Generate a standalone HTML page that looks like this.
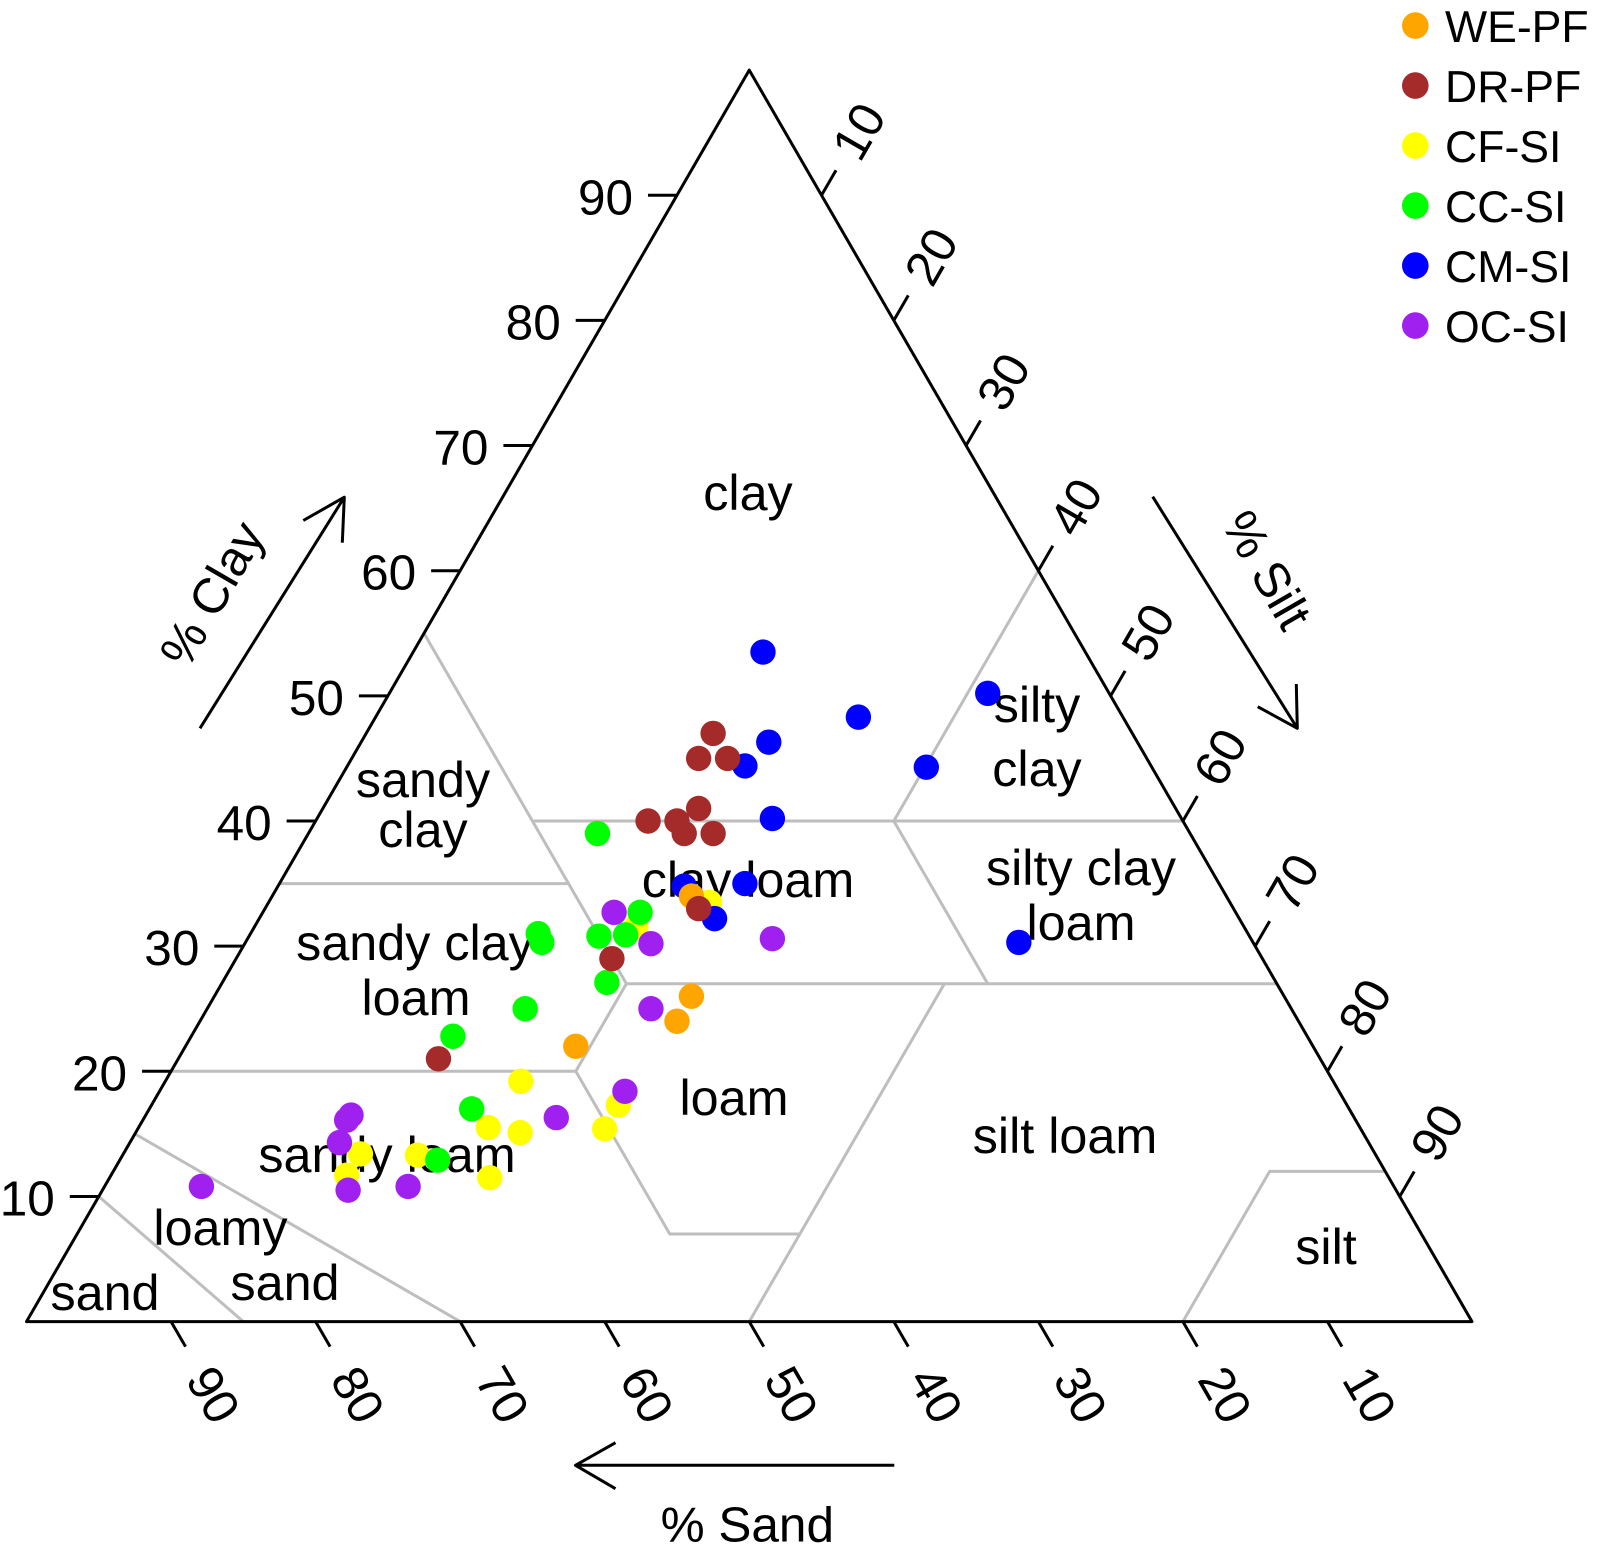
<!DOCTYPE html>
<html lang="en">
<head>
<meta charset="utf-8">
<title>Soil texture triangle</title>
<style>
html,body{margin:0;padding:0;background:#fff;}
svg{display:block;}
text{font-family:"Liberation Sans",Arial,sans-serif;fill:#000;}
.region{font-size:50.3px;text-anchor:middle;}
.tick{font-size:49.5px;text-anchor:middle;}
.axis-title{font-size:49.5px;text-anchor:middle;}
.legend-text{font-size:44.6px;}
</style>
</head>
<body>
<svg id="chart" xmlns="http://www.w3.org/2000/svg" width="1598" height="1550" viewBox="0 0 1598 1550">
  <rect width="1598" height="1550" fill="#ffffff"/>
  <g id="boundaries"></g>
  <g id="region-labels">
    <text class="region" x="748" y="510">clay</text>
    <text class="region" x="423" y="797">sandy</text>
    <text class="region" x="423" y="847">clay</text>
    <text class="region" x="415" y="960">sandy clay</text>
    <text class="region" x="416" y="1015">loam</text>
    <text class="region" x="387" y="1172">sandy loam</text>
    <text class="region" x="220.5" y="1245">loamy</text>
    <text class="region" x="285" y="1300">sand</text>
    <text class="region" x="105" y="1310">sand</text>
    <text class="region" x="748" y="897">clay loam</text>
    <text class="region" x="1037" y="722">silty</text>
    <text class="region" x="1037" y="786">clay</text>
    <text class="region" x="1081" y="885">silty clay</text>
    <text class="region" x="1081" y="940">loam</text>
    <text class="region" x="734" y="1115">loam</text>
    <text class="region" x="1065" y="1153">silt loam</text>
    <text class="region" x="1326" y="1264">silt</text>
  </g>
  <g id="frame"></g>
  <g id="ticks"></g>
  <g id="arrows" fill="none" stroke="#000" stroke-width="3" stroke-linejoin="round">
    <path d="M200 728.3L344.3 497.2M303.3 520.5L344.3 497.2L342.3 542.7"/>
    <path d="M1152.7 496.7L1297.3 728.3M1257.7 706.7L1297.3 728.3L1296.3 684"/>
    <path d="M894.3 1465.3L575.5 1465.3M615.5 1442.7L575.5 1465.3L615.5 1488.7"/>
  </g>
  <text class="axis-title" transform="translate(212,594) rotate(-60)" y="17">% Clay</text>
  <text class="axis-title" transform="translate(1267,570) rotate(60)" y="17">% Silt</text>
  <text class="axis-title" x="747.3" y="1541.7">% Sand</text>
  <g id="points"></g>
  <g id="legend"></g>
</svg>
<script>
// Tick values printed on the three axes
const clayTicks = [10, 20, 30, 40, 50, 60, 70, 80, 90];
const siltTicks = [10, 20, 30, 40, 50, 60, 70, 80, 90];
const sandTicks = [90, 80, 70, 60, 50, 40, 30, 20, 10];

// Sample compositions (% clay and % silt)
const wePfClay = [34, 26, 24, 22];
const wePfSilt = [29, 33, 33, 27];
const drPfClay = [40, 40, 41, 39, 39, 33, 29, 47, 45, 45, 21];
const drPfSilt = [23, 25, 26, 26, 28, 30, 26, 24, 24, 26, 18];
const cfSiClay = [33.5, 31.5, 19.2, 17.3, 15.5, 15.1, 15.4, 13.4, 13.3, 11.7, 11.5];
const cfSiSilt = [30.5, 26.4, 24.6, 32.3, 24.2, 26.6, 32.3, 16.4, 20.4, 16.3, 26.3];
const ccSiClay = [39, 32.7, 30.8, 30.9, 31, 30.3, 27.1, 25, 22.8, 17, 12.9];
const ccSiSilt = [20, 26.1, 24.2, 26, 19.9, 20.5, 26.6, 22, 18.1, 22.3, 22];
const cmSiClay = [53.5, 48.3, 50.2, 46.3, 44.4, 44.3, 40.2, 34.8, 35, 32.2, 30.3];
const cmSiSilt = [24.2, 33.4, 41.4, 28.2, 27.5, 40.1, 31.5, 28.1, 32.2, 31.5, 53.5];
const ocSiClay = [32.7, 30.2, 30.6, 25, 18.4, 16.3, 16.5, 16.1, 14.3, 10.8, 10.5, 10.8];
const ocSiSilt = [24.3, 28.1, 36.3, 30.7, 32.2, 28.5, 14.2, 14.1, 14.5, 6.7, 17, 21];

// Legend order
const legendLabels = ['WE-PF', 'DR-PF', 'CF-SI', 'CC-SI', 'CM-SI', 'OC-SI'];
const legendColors = ['#ffa500', '#a52a2a', '#ffff00', '#00ff00', '#0000ff', '#a020f0'];

// Texture-class boundary polylines as [clay, silt] compositions
const boundaryLines = [
  [[10, 0], [0, 15]],
  [[15, 0], [0, 30]],
  [[55, 0], [40, 15], [35, 20], [27, 28], [20, 28], [7, 41], [7, 50]],
  [[35, 0], [35, 20]],
  [[20, 0], [20, 28]],
  [[40, 15], [40, 60]],
  [[60, 40], [40, 40], [27, 53]],
  [[27, 28], [27, 73]],
  [[27, 50], [0, 50]],
  [[12, 88], [12, 80], [0, 80]]
];

// Axis geometry
const LEFT = 26.5, BASE = 1321.6, WIDTH = 1445.5, HEIGHT = 1251.5;
function xPos(clay, silt) { return LEFT + WIDTH * (silt + clay / 2) / 100; }
function yPos(clay) { return BASE - HEIGHT * clay / 100; }

const NS = 'http://www.w3.org/2000/svg';
function make(tag, parentId) {
  const el = document.createElementNS(NS, tag);
  document.getElementById(parentId).appendChild(el);
  return el;
}

// Boundaries
boundaryLines.forEach(function (line) {
  const el = make('polyline', 'boundaries');
  
  
  el.setAttribute('points', line.map(function (p) { return xPos(p[0], p[1]) + ',' + yPos(p[0]); }).join(' '));
  el.setAttribute('fill', 'none');
  el.setAttribute('stroke', '#bebebe');
  el.setAttribute('stroke-width', '3');
  el.setAttribute('stroke-linejoin', 'round');
});

// Triangle frame
const frameEl = make('polygon', 'frame');


frameEl.setAttribute('points', [[0, 0], [100, 0], [0, 100]].map(function (p) { return xPos(p[0], p[1]) + ',' + yPos(p[0]); }).join(' '));
frameEl.setAttribute('fill', 'none');
frameEl.setAttribute('stroke', '#000');
frameEl.setAttribute('stroke-width', '3');
frameEl.setAttribute('stroke-linejoin', 'round');

function drawTick(name, x0, y0, dx, dy, lx, ly, rot, value) {
  const t = make('line', 'ticks');
  
  
  t.setAttribute('x1', x0);
  t.setAttribute('y1', y0);
  t.setAttribute('x2', x0 + dx);
  t.setAttribute('y2', y0 + dy);
  t.setAttribute('stroke', '#000');
  t.setAttribute('stroke-width', '3');
  const lab = make('text', 'ticks');
  
  
  lab.setAttribute('class', 'tick');
  lab.setAttribute('transform', 'translate(' + (x0 + lx) + ',' + (y0 + ly) + ') rotate(' + rot + ')');
  lab.setAttribute('y', '17.5');
  lab.textContent = value;
}

clayTicks.forEach(function (v) {
  drawTick('clay', xPos(v, 0), yPos(v), -29, 0, -71.5, 1.5, 0, v);
});
siltTicks.forEach(function (v) {
  drawTick('silt', xPos(100 - v, v), yPos(100 - v), 14.5, -25, 37, -64, -60, v);
});
sandTicks.forEach(function (v) {
  drawTick('sand', xPos(0, 100 - v), yPos(0), 14.5, 25, 42.6, 73, 60, v);
});

// Points, painted in the stacking order seen in the figure
function drawSeries(name, color, clay, silt) {
  clay.forEach(function (c, i) {
    const dot = make('circle', 'points');
    
    
    dot.setAttribute('cx', xPos(c, silt[i]));
    dot.setAttribute('cy', yPos(c));
    dot.setAttribute('r', '12.7');
    dot.setAttribute('fill', color);
  });
}
drawSeries('cf-si', legendColors[2], cfSiClay, cfSiSilt);
drawSeries('cc-si', legendColors[3], ccSiClay, ccSiSilt);
drawSeries('cm-si', legendColors[4], cmSiClay, cmSiSilt);
drawSeries('oc-si', legendColors[5], ocSiClay, ocSiSilt);
drawSeries('we-pf', legendColors[0], wePfClay, wePfSilt);
drawSeries('dr-pf', legendColors[1], drPfClay, drPfSilt);

// Legend
legendLabels.forEach(function (label, i) {
  const dot = make('circle', 'legend');
  
  
  dot.setAttribute('cx', 1415.3);
  dot.setAttribute('cy', 25.6 + 60 * i);
  dot.setAttribute('r', '13.3');
  dot.setAttribute('fill', legendColors[i]);
  const txt = make('text', 'legend');
  
  
  txt.setAttribute('class', 'legend-text');
  txt.setAttribute('x', 1445);
  txt.setAttribute('y', 41.8 + 60 * i);
  txt.textContent = label;
});
</script>
</body>
</html>
